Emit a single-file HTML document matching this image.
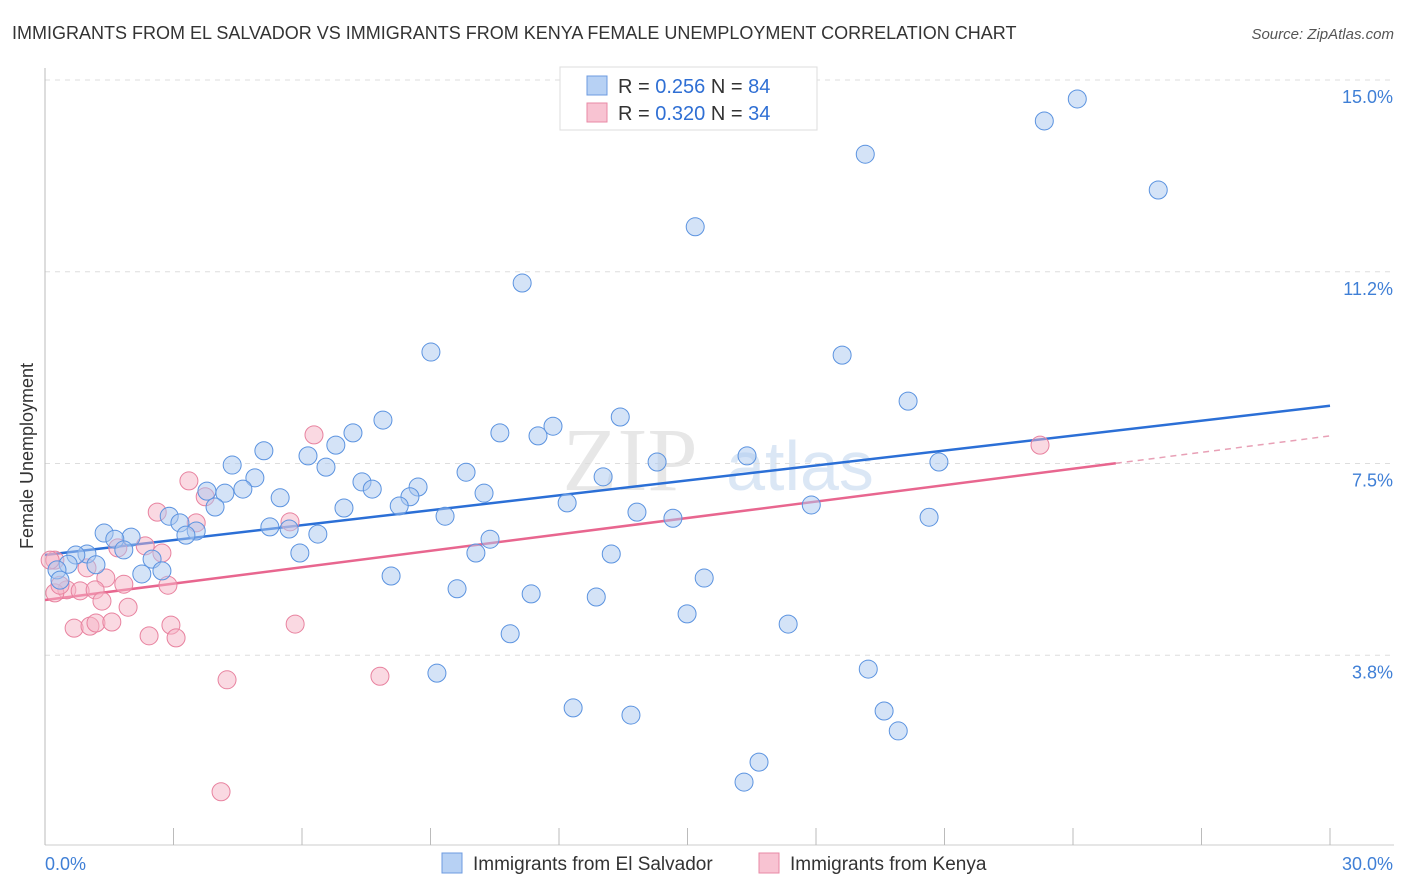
<!DOCTYPE html>
<html><head><meta charset="utf-8"><style>
body{margin:0;background:#fff;font-family:"Liberation Sans",sans-serif;}
#wrap{position:relative;width:1406px;height:892px;overflow:hidden}
</style></head><body>
<div id="wrap">
<svg id="chart" width="1406" height="892">
<text x="12" y="39" font-size="18" fill="#333">IMMIGRANTS FROM EL SALVADOR VS IMMIGRANTS FROM KENYA FEMALE UNEMPLOYMENT CORRELATION CHART</text>
<text x="1394" y="39" font-size="15" fill="#555" font-style="italic" text-anchor="end">Source: ZipAtlas.com</text>
<text x="0" y="0" transform="translate(33,456) rotate(-90)" font-size="18" fill="#333" text-anchor="middle">Female Unemployment</text>
<g><text x="630" y="490" font-size="90" fill="#d8d8d8" font-family="Liberation Serif,serif" text-anchor="middle" opacity="0.6">ZIP</text><text x="800" y="490" font-size="70" fill="#c4d8f0" text-anchor="middle" opacity="0.6">atlas</text></g>
<g id="grid"></g><g id="axes"></g><g id="trend"></g><g id="pts"></g>
<g>
<rect x="560" y="67" width="257" height="63" fill="#fff" stroke="#ddd"/>
<rect x="587" y="76" width="20" height="19" fill="#b7d1f4" stroke="#6c9be0"/>
<text x="618" y="93" font-size="20" fill="#333">R = <tspan fill="#2f6fd4">0.256</tspan>   N = <tspan fill="#2f6fd4">84</tspan></text>
<rect x="587" y="103" width="20" height="19" fill="#f8c3d2" stroke="#e889a6"/>
<text x="618" y="120" font-size="20" fill="#333">R = <tspan fill="#2f6fd4">0.320</tspan>   N = <tspan fill="#2f6fd4">34</tspan></text>
</g>
<g>
<rect x="442" y="853" width="20" height="20" fill="#b7d1f4" stroke="#6c9be0"/>
<text x="473" y="870" font-size="19" fill="#333">Immigrants from El Salvador</text>
<rect x="759" y="853" width="20" height="20" fill="#f8c3d2" stroke="#e889a6"/>
<text x="790" y="870" font-size="19" fill="#333">Immigrants from Kenya</text>
</g>
</svg>
</div>
<script>
const yTicks=[15.0,11.2,7.5,3.8];
const yTickVals=[15,11.25,7.5,3.75];
const xTickLabels=["0.0%","30.0%"];
const blueX=[24.10,23.33,19.15,25.99,15.18,11.14,9.01,18.61,20.15,13.43,11.86,7.89,11.51,10.62,7.19,6.79,5.11,4.37,6.14,6.56,16.39,14.29,20.87,9.83,13.03,4.90,7.40,7.64,8.71,3.78,4.62,4.20,5.49,8.52,10.25,8.27,6.98,12.19,17.89,3.97,2.90,9.34,13.82,14.66,20.64,3.15,5.25,5.70,3.53,6.37,3.29,1.38,2.01,1.63,10.39,1.84,0.98,0.72,5.95,10.06,13.22,2.50,1.19,0.54,0.28,2.26,2.73,8.08,15.39,9.62,11.35,12.87,14.99,17.35,10.86,19.22,9.15,12.33,19.59,13.68,19.92,16.67,16.32,0.35];
const blueY=[14.63,14.20,13.55,12.85,12.13,11.03,9.68,9.62,8.72,8.41,8.23,8.35,8.04,8.10,8.10,7.86,7.75,7.47,7.65,7.43,7.65,7.53,7.53,7.33,7.24,7.22,7.14,7.00,7.04,6.96,7.00,6.92,6.83,6.85,6.92,6.67,6.63,6.73,6.69,6.65,6.47,6.47,6.55,6.43,6.45,6.34,6.26,6.22,6.18,6.12,6.10,6.14,6.06,6.02,6.02,5.81,5.73,5.71,5.75,5.75,5.73,5.63,5.52,5.53,5.42,5.34,5.40,5.30,5.26,5.05,4.95,4.89,4.56,4.36,4.17,3.48,3.40,2.72,2.66,2.58,2.27,1.66,1.27,5.22];
const pinkX=[23.23,6.28,3.36,3.74,2.62,5.72,3.53,2.34,1.70,2.73,0.98,0.23,1.42,1.84,2.87,0.51,0.82,1.17,0.23,1.33,1.94,0.68,1.05,1.19,1.56,2.94,5.84,2.43,3.06,4.25,7.82,4.11,0.12,0.35];
const pinkY=[7.86,8.06,7.16,6.85,6.55,6.36,6.34,5.89,5.85,5.75,5.46,5.61,5.26,5.14,5.12,5.03,5.01,5.03,4.97,4.81,4.69,4.28,4.32,4.38,4.40,4.34,4.36,4.13,4.09,3.27,3.34,1.08,5.61,5.12];
const blueTrend=[5.71,8.63];
const pinkTrend=[4.83,8.04];
const pinkSolidEnd=25;
const X0=45,X1=1330,Y0=847,PPY=51.13;
const xs=v=>X0+v*(X1-X0)/30, ys=v=>Y0-v*PPY;
const NS="http://www.w3.org/2000/svg";
function mk(tag,attrs,parent){const e=document.createElementNS(NS,tag);for(const k in attrs)e.setAttribute(k,attrs[k]);document.getElementById(parent).appendChild(e);return e;}
yTickVals.forEach((v,i)=>{
 const g=mk('line',{x1:45,x2:1394,y1:ys(v),y2:ys(v),stroke:'#ddd','stroke-dasharray':'5,5'},'grid');
 
 
 const t=mk('text',{x:1393,y:ys(v)+23,'font-size':18,fill:'#3f7fd6','text-anchor':'end'},'grid');
 t.textContent=yTicks[i].toFixed(1)+'%';
 
 
});
const la=mk('line',{x1:45,x2:45,y1:68,y2:845,stroke:'#bbb'},'axes');


const lb=mk('line',{x1:45,x2:1394,y1:845,y2:845,stroke:'#ccc'},'axes');


for(let i=0;i<=10;i++){const tk=mk('line',{x1:xs(i*3),x2:xs(i*3),y1:828,y2:845,stroke:'#bbb'},'axes');
 
 }
const xl0=mk('text',{x:45,y:870,'font-size':18,fill:'#3f7fd6'},'axes');xl0.textContent=xTickLabels[0];


const xl1=mk('text',{x:1393,y:870,'font-size':18,fill:'#3f7fd6','text-anchor':'end'},'axes');xl1.textContent=xTickLabels[1];


function drawPts(X,Y,fill,stroke,name){X.forEach((x,i)=>{const c=mk('circle',{cx:xs(x),cy:ys(Y[i]),r:9,fill:fill,'fill-opacity':0.5,stroke:stroke,'stroke-width':1},'pts');
 
 });}
drawPts(pinkX,pinkY,'#f5b3c6','#e8829f','kenya-point');
drawPts(blueX,blueY,'#a9c8f0','#5b93e0','el-salvador-point');
const bt=mk('line',{x1:xs(0),y1:ys(blueTrend[0]),x2:xs(30),y2:ys(blueTrend[1]),stroke:'#2b6fd6','stroke-width':2.5},'trend');


const pm=v=>pinkTrend[0]+(pinkTrend[1]-pinkTrend[0])*v/30;
const pt=mk('line',{x1:xs(0),y1:ys(pm(0)),x2:xs(pinkSolidEnd),y2:ys(pm(pinkSolidEnd)),stroke:'#e8668f','stroke-width':2.5},'trend');


const pd=mk('line',{x1:xs(pinkSolidEnd),y1:ys(pm(pinkSolidEnd)),x2:xs(30),y2:ys(pm(30)),stroke:'#e8a0b6','stroke-width':1.5,'stroke-dasharray':'6,5'},'trend');


</script>
</body></html>
